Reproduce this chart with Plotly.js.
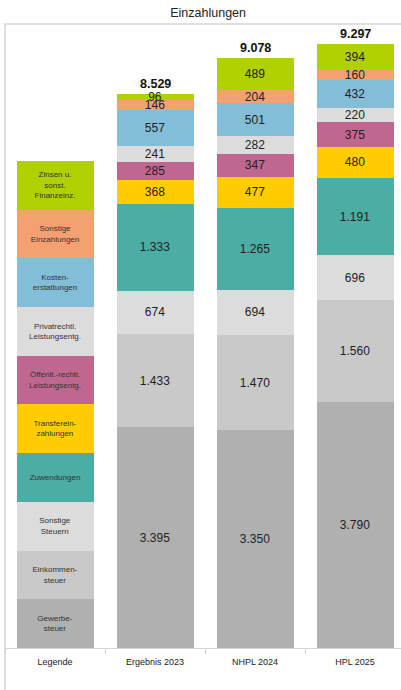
<!DOCTYPE html>
<html>
<head>
<meta charset="utf-8">
<script src="https://cdn.plot.ly/plotly-3.0.1.min.js"></script>
<style>html,body{margin:0;padding:0;background:#fff;}#chart{width:401px;height:690px;}</style>
</head>
<body>
<div id="chart"></div>
<script>
// ---- data ----
const categories = ['Legende', 'Ergebnis 2023', 'NHPL 2024', 'HPL 2025'];
const seriesNames = ['Gewerbesteuer', 'Einkommensteuer', 'Sonstige Steuern', 'Zuwendungen', 'Transfereinzahlungen',
  'Öffentl.-rechtl. Leistungsentg.', 'Privatrechtl. Leistungsentg.', 'Kostenerstattungen', 'Sonstige Einzahlungen', 'Zinsen u. sonst. Finanzeinz.'];
const legendLabels = ['Gewerbe-<br>steuer', 'Einkommen-<br>steuer', 'Sonstige<br>Steuern', 'Zuwendungen', 'Transferein-<br>zahlungen',
  'Öffentl.-rechtl.<br>Leistungsentg.', 'Privatrechtl.<br>Leistungsentg.', 'Kosten-<br>erstattungen', 'Sonstige<br>Einzahlungen', 'Zinsen u.<br>sonst.<br>Finanzeinz.'];
const gewerbesteuer    = [3395, 3350, 3790];
const einkommensteuer  = [1433, 1470, 1560];
const sonstSteuern     = [674, 694, 696];
const zuwendungen      = [1333, 1265, 1191];
const transfer         = [368, 477, 480];
const oeffRechtl       = [285, 347, 375];
const privatRechtl     = [241, 282, 220];
const kostenerst       = [557, 501, 432];
const sonstEinz        = [146, 204, 160];
const zinsen           = [96, 489, 394];
const totals           = [8529, 9078, 9297];
const legendSlot = 750;

const seriesValues = [gewerbesteuer, einkommensteuer, sonstSteuern, zuwendungen, transfer,
  oeffRechtl, privatRechtl, kostenerst, sonstEinz, zinsen];
const colors = ['#b0b0b0', '#c9c9c9', '#dcdcdc', '#4bada3', '#ffcc00',
  '#c0678f', '#dcdcdc', '#84bdd7', '#f5a070', '#b0d000'];

const FONT = 'Liberation Sans, Arial, sans-serif';
const fmt = n => String(n).replace(/\B(?=(\d{3})+(?!\d))/g, '.');

const traces = seriesValues.map((vals, i) => ({
  type: 'bar',
  name: seriesNames[i],
  x: categories,
  y: [legendSlot].concat(vals),
  text: [legendLabels[i]].concat(vals.map(fmt)),
  textposition: 'inside',
  insidetextanchor: 'middle',
  constraintext: 'none',
  textangle: 0,
  textfont: {family: FONT, size: [8, 12, 12, 12], color: ['#333', '#222', '#222', '#222']},
  marker: {color: colors[i], line: {width: 0}},
  hoverinfo: 'none',
  showlegend: false
}));

const totalAnnotations = totals.map((t, i) => ({
  x: categories[i + 1], y: t, xref: 'x', yref: 'y',
  text: '<b>' + fmt(t) + '</b>',
  showarrow: false, yanchor: 'bottom', yshift: 1,
  font: {family: FONT, size: 12.5, color: '#111'}
}));

const layout = {
  width: 401, height: 690,
  margin: {l: 5, r: 0, t: 24, b: 42},
  paper_bgcolor: '#fff', plot_bgcolor: '#fff',
  barmode: 'stack',
  bargap: 0.23,
  title: {text: 'Einzahlungen', font: {family: FONT, size: 12.5, color: '#222'},
          x: 0.519, xref: 'container', y: 0.982, yref: 'container', yanchor: 'middle'},
  xaxis: {
    range: [-0.5, 3.46],
    showline: true, linecolor: '#d4d4d4', linewidth: 1,
    ticks: 'outside', tickson: 'boundaries', ticklen: 5, tickcolor: '#d4d4d4',
    ticklabelstandoff: 5,
    tickfont: {family: FONT, size: 9, color: '#222'},
    showgrid: false, zeroline: false, fixedrange: true
  },
  yaxis: {range: [0, 9606], visible: false, fixedrange: true},
  annotations: totalAnnotations,
  shapes: [{
    type: 'rect', xref: 'paper', yref: 'paper',
    x0: 0, x1: 1.01, y0: -0.2, y1: 1,
    line: {color: '#d6d6d6', width: 1.5}, fillcolor: 'rgba(0,0,0,0)', layer: 'below'
  }]
};

Plotly.newPlot('chart', traces, layout, {displayModeBar: false, staticPlot: true});
</script>
</body>
</html>
